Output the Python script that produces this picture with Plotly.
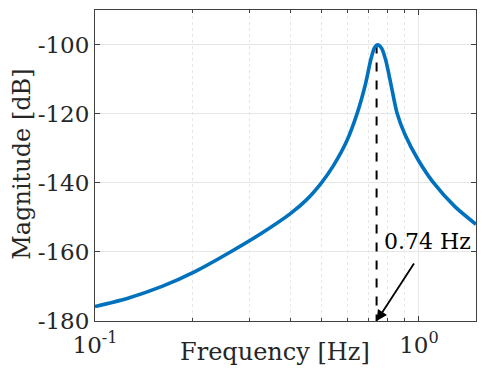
import numpy as np
import plotly.graph_objects as go

# magnitude curve
freq = [0.1, 0.1264, 0.1610, 0.2035, 0.2610, 0.3230, 0.40, 0.4478, 0.50,
        0.5439, 0.598, 0.6457, 0.6836, 0.7109, 0.7287, 0.7455,
        0.7660, 0.7881, 0.8195, 0.8552, 0.9053, 0.995, 1.107, 1.2915, 1.4996]
mag = [-175.8, -173.4, -170.0, -165.7, -160.1, -154.9, -149.0, -145.1, -140.0,
       -135.1, -128.0, -119.7, -111.5, -104.2, -101.0, -100.1,
       -101.0, -104.2, -111.5, -119.7, -126.0, -133.4, -139.9, -146.9, -152.0]

f_res = 0.74
res_label = "0.74 Hz"
y_ticks = [-180, -160, -140, -120, -100]
x_ticks = [0.1, 1]
x_ticktext = ["10<sup>-1</sup>", "10<sup>0</sup>"]
x_minor = [0.2, 0.3, 0.4, 0.5, 0.6, 0.7, 0.8, 0.9]

font = "DejaVu Serif"
txt = "#262626"
blue = "#0072BD"

fig = go.Figure()
fig.add_trace(go.Scatter(x=[f_res, f_res], y=[-100, -180], mode="lines",
                         line=dict(color="black", width=2, dash="dash")))
fig.add_trace(go.Scatter(x=freq, y=mag, mode="lines", line_shape="spline",
                         line=dict(color=blue, width=3.6, smoothing=0.8)))

#%% annotation: label + arrow
fig.add_annotation(x=np.log10(0.769), y=-157, text=res_label, showarrow=False,
                   xanchor="left", yanchor="middle",
                   font=dict(family=font, size=22, color="black"))
fig.add_annotation(x=np.log10(f_res), y=-180, ax=np.log10(0.972), ay=-162.9,
                   axref="x", ayref="y", text="", showarrow=True,
                   arrowhead=2, arrowsize=1.2, arrowwidth=1.8, arrowcolor="black")

# axis titles placed like MATLAB does
fig.add_annotation(x=0.472, y=-0.10, xref="paper", yref="paper",
                   text="Frequency [Hz]", showarrow=False,
                   xanchor="center", yanchor="middle",
                   font=dict(family=font, size=24, color=txt))
fig.add_annotation(x=-0.192, y=0.505, xref="paper", yref="paper",
                   text="Magnitude [dB]", showarrow=False, textangle=-90,
                   xanchor="center", yanchor="middle",
                   font=dict(family=font, size=24, color=txt))

axis_common = dict(showline=True, linecolor="#404040", linewidth=1, mirror="ticks",
                   ticks="inside", ticklen=5, tickcolor="#404040",
                   gridcolor="#e6e6e6", gridwidth=1, zeroline=False,
                   automargin=False,
                   tickfont=dict(family=font, size=23, color=txt))

fig.update_xaxes(type="log", range=[-1, np.log10(1.5)],
                 tickvals=x_ticks, ticktext=x_ticktext, ticklabelstandoff=3,
                 minor=dict(tickvals=x_minor, showgrid=True, griddash="dot",
                            gridcolor="#e6e6e6", ticks="inside", ticklen=3,
                            tickcolor="#404040"),
                 **axis_common)
fig.update_yaxes(range=[-180, -90], tickvals=y_ticks,
                 ticktext=[str(v) for v in y_ticks],
                 **axis_common)

fig.update_layout(width=488, height=369, showlegend=False,
                  plot_bgcolor="white", paper_bgcolor="white",
                  margin=dict(l=95, r=12, t=10, b=48))

# drop the default page margin so the figure sits at the window corner
fig.write_html("out.html", config={"displayModeBar": False},
               post_script="document.body.style.margin='0px';")
